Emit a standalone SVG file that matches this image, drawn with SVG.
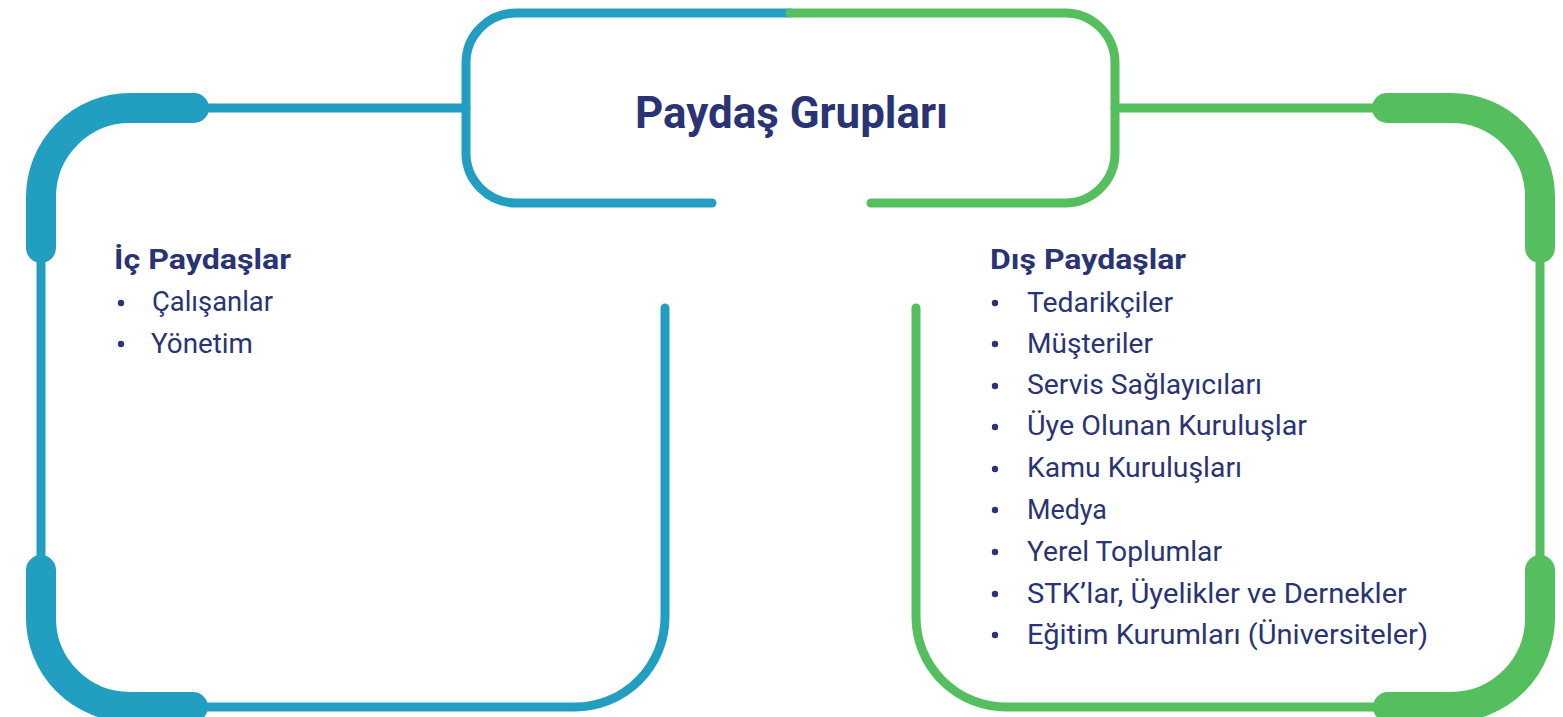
<svg xmlns="http://www.w3.org/2000/svg" width="1563" height="717" viewBox="0 0 1563 717">
<style>
.b{stroke:#229FC0;fill:none;stroke-linecap:round;stroke-linejoin:round}
.g{stroke:#55BE5F;fill:none;stroke-linecap:round;stroke-linejoin:round}
.thin{stroke-width:9}
.thick{stroke-width:30}
text{font-family:Roboto,"Liberation Sans",sans-serif;fill:#2A3474}
.h{font-weight:bold;font-size:27px}
.i{font-size:27px}
.t{font-weight:bold;font-size:44px}
</style>
<rect width="1563" height="717" fill="#ffffff"/>
<g id="connectors">
<path class="b thin" d="M466 108 H130 A89 89 0 0 0 41 197 V618 A89 89 0 0 0 130 707 H575 A90 90 0 0 0 665 617 V308"/>
<path class="b thick" d="M194 108 H130 A89 89 0 0 0 41 197 V248"/>
<path class="b thick" d="M41 570 V618 A89 89 0 0 0 130 707 H193"/>
<path class="g thin" d="M1115 108 H1451 A89 89 0 0 1 1540 197 V618 A89 89 0 0 1 1451 707 H1006 A90 90 0 0 1 916 617 V308"/>
<path class="g thick" d="M1387 108 H1451 A89 89 0 0 1 1540 197 V248"/>
<path class="g thick" d="M1540 570 V618 A89 89 0 0 1 1451 707 H1388"/>
</g>
<g id="top-node">
<path class="b thin" d="M790 13 H516 A50 50 0 0 0 466 63 V153 A50 50 0 0 0 516 203 H712"/>
<path class="g thin" d="M790 13 H1065 A50 50 0 0 1 1115 63 V153 A50 50 0 0 1 1065 203 H871"/>
<text class="t" x="635" y="128" textLength="313" lengthAdjust="spacingAndGlyphs">Paydaş Grupları</text>
</g>
<g id="ic-paydaslar">
<text class="h" x="114" y="269" textLength="177" lengthAdjust="spacingAndGlyphs">İç Paydaşlar</text>
<circle cx="121" cy="303" r="3.2" fill="#2A3474"/>
<text class="i" x="152" y="311" textLength="121" lengthAdjust="spacingAndGlyphs">Çalışanlar</text>
<circle cx="121" cy="344" r="3.2" fill="#2A3474"/>
<text class="i" x="151" y="353" textLength="102" lengthAdjust="spacingAndGlyphs">Yönetim</text>
</g>
<g id="dis-paydaslar">
<text class="h" x="990" y="269" textLength="196" lengthAdjust="spacingAndGlyphs">Dış Paydaşlar</text>
<g fill="#2A3474">
<circle cx="995" cy="303" r="3.2"/>
<circle cx="995" cy="344" r="3.2"/>
<circle cx="995" cy="386" r="3.2"/>
<circle cx="995" cy="427" r="3.2"/>
<circle cx="995" cy="469" r="3.2"/>
<circle cx="995" cy="510" r="3.2"/>
<circle cx="995" cy="552" r="3.2"/>
<circle cx="995" cy="594" r="3.2"/>
<circle cx="995" cy="635" r="3.2"/>
</g>
<text class="i" x="1027" y="312" textLength="146" lengthAdjust="spacingAndGlyphs">Tedarikçiler</text>
<text class="i" x="1027" y="353" textLength="126" lengthAdjust="spacingAndGlyphs">Müşteriler</text>
<text class="i" x="1027" y="394" textLength="235" lengthAdjust="spacingAndGlyphs">Servis Sağlayıcıları</text>
<text class="i" x="1027" y="435" textLength="280" lengthAdjust="spacingAndGlyphs">Üye Olunan Kuruluşlar</text>
<text class="i" x="1027" y="477" textLength="215" lengthAdjust="spacingAndGlyphs">Kamu Kuruluşları</text>
<text class="i" x="1027" y="519" textLength="80" lengthAdjust="spacingAndGlyphs">Medya</text>
<text class="i" x="1027" y="561" textLength="195" lengthAdjust="spacingAndGlyphs">Yerel Toplumlar</text>
<text class="i" x="1027" y="603" textLength="380" lengthAdjust="spacingAndGlyphs">STK’lar, Üyelikler ve Dernekler</text>
<text class="i" x="1027" y="644" textLength="401" lengthAdjust="spacingAndGlyphs">Eğitim Kurumları (Üniversiteler)</text>
</g>
</svg>
